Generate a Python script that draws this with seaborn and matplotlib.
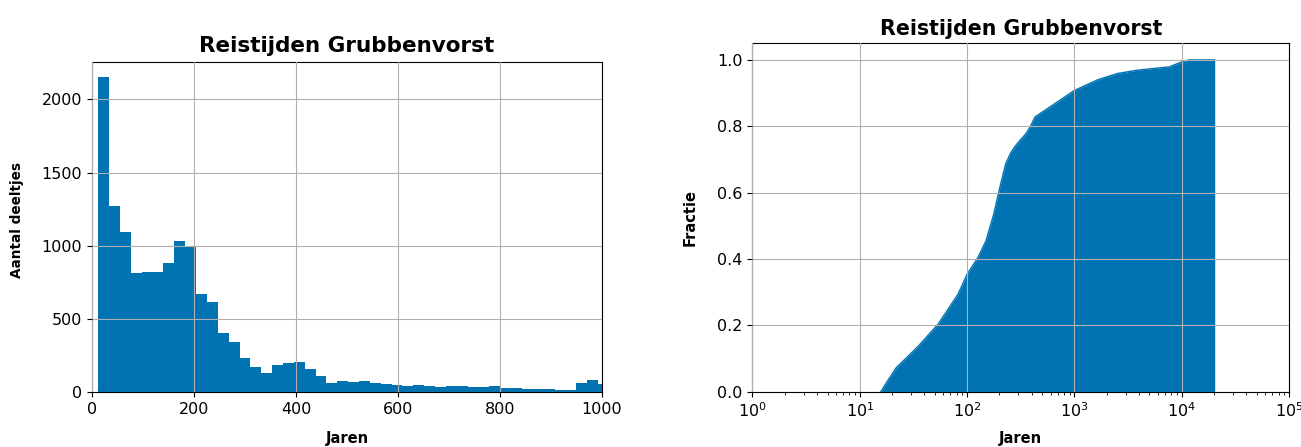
import numpy as np
import pandas as pd
import matplotlib.pyplot as plt
import seaborn as sns

# Histogram (left): bins of ~21.3 years starting at ~12.4, counts
BIN_START = 12.4
BIN_WIDTH = 21.3
counts = [
    2150, 1273, 1095, 811, 823, 823, 886, 1032, 995, 668,
    618, 407, 345, 232, 175, 130, 186, 202, 209, 158,
    110, 63, 78, 68, 75, 64, 57, 52, 45, 52,
    45, 34, 41, 41, 36, 36, 41, 30, 30, 25,
    25, 20, 18, 18, 64, 86, 59,
]

# Cumulative fraction (right)
cdf_years = [15.7, 17.6, 21.8, 35, 53.5, 82, 100, 126, 150, 177, 202, 229, 255,
             284, 310, 352, 390, 429, 589, 1000, 1644, 2514, 3864, 7670, 10000,
             11700, 20300]
cdf_frac = [0.0, 0.026, 0.072, 0.137, 0.203, 0.293, 0.354, 0.404, 0.455, 0.535,
            0.616, 0.687, 0.72, 0.742, 0.757, 0.777, 0.80, 0.828, 0.858, 0.908,
            0.940, 0.959, 0.969, 0.979, 0.994, 1.0, 1.0]

TITLE = "Reistijden Grubbenvorst"
BLUE = "#0173B2"
GRID = "#b0b0b0"

edges = BIN_START + BIN_WIDTH * np.arange(len(counts) + 1)
hist_df = pd.DataFrame({
    "jaren": (edges[:-1] + edges[1:]) / 2,
    "aantal": counts,
})

fig = plt.figure(figsize=(13.01, 4.47), dpi=100)
ax1 = fig.add_axes([0.0707, 0.1224, 0.392, 0.7396])
ax2 = fig.add_axes([0.5784, 0.1237, 0.4124, 0.7794])

# left: histogram
sns.histplot(data=hist_df, x="jaren", weights="aantal", bins=edges.tolist(), ax=ax1,
             color=BLUE, alpha=1, edgecolor="none", linewidth=0)
ax1.set_xlim(0, 1000)
ax1.set_ylim(0, 2257)
ax1.set_title(TITLE, fontsize=15.5, fontweight="bold", pad=7)
ax1.set_xlabel("Jaren", fontsize=10.5, fontweight="bold", labelpad=10)
ax1.set_ylabel("Aantal deeltjes", fontsize=9.8, fontweight="bold")
ax1.yaxis.set_label_coords(-0.133, 0.52)

# right: cumulative fraction
sns.lineplot(x=cdf_years, y=cdf_frac, ax=ax2, color=BLUE, linewidth=1)
ax2.fill_between(cdf_years, cdf_frac, 0, color=BLUE, linewidth=0)
ax2.set_xscale("log")
ax2.set_xlim(1, 1e5)
ax2.set_ylim(0, 1.05)
ax2.set_title(TITLE, fontsize=14.8, fontweight="bold")
ax2.set_xlabel("Jaren", fontsize=10.5, fontweight="bold", labelpad=8)
ax2.set_ylabel("Fractie", fontsize=10.5, fontweight="bold", labelpad=14)

for ax in (ax1, ax2):
    ax.set_axisbelow(False)
    ax.grid(True, which="major", color=GRID, linewidth=0.8)
    ax.tick_params(labelsize=11.5)

fig.savefig("out.png", dpi=100)
